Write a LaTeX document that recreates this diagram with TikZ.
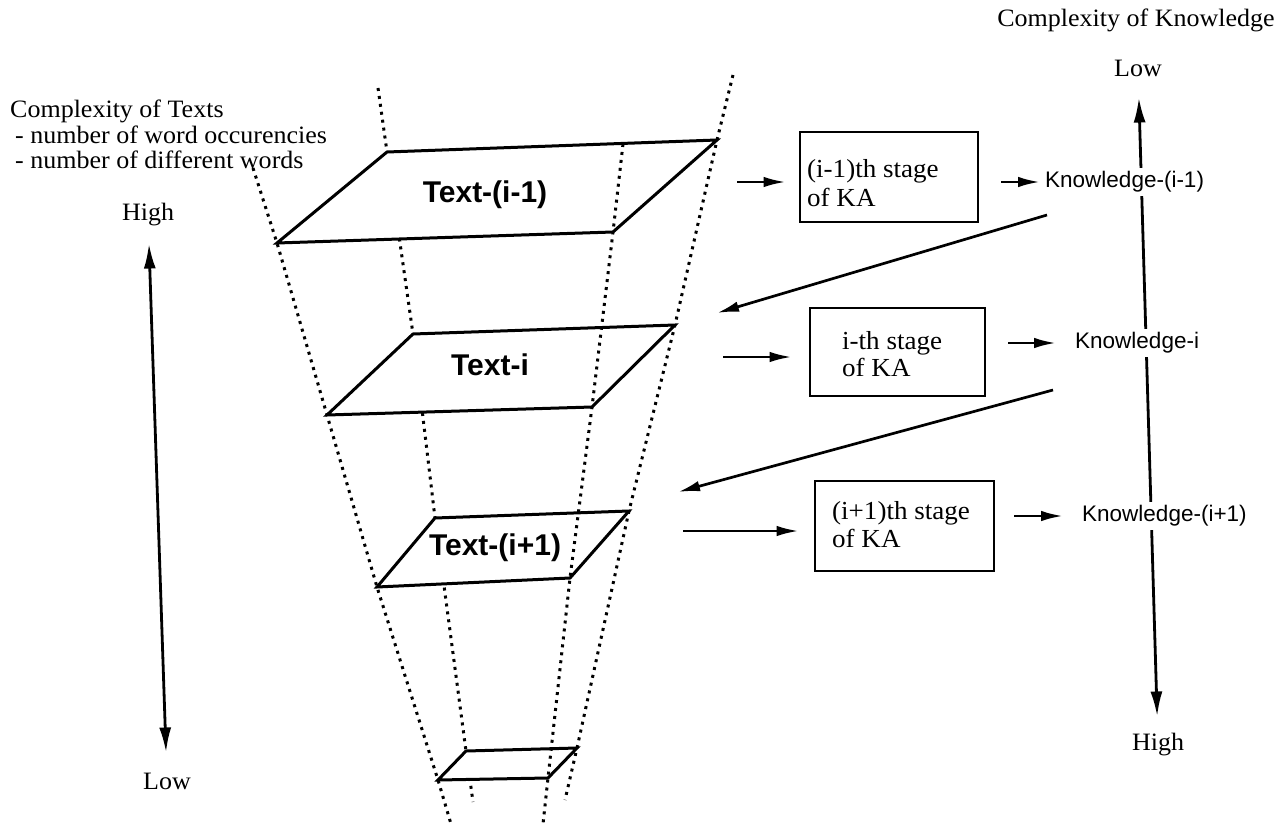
\documentclass[tikz,border=0pt]{standalone}
\usepackage{fontspec}
\setmainfont{Liberation Serif}[FakeStretch=1.04]
\newfontfamily\arialf{Liberation Sans}
\usetikzlibrary{arrows.meta}
\begin{document}
\begin{tikzpicture}[x=1pt,y=-1pt,
  serif/.style={font=\fontsize{25}{25}\selectfont, inner sep=0pt},
  know/.style={font=\arialf\fontsize{22.5}{25}\selectfont, inner xsep=1.5pt, inner ysep=4pt, fill=white, anchor=west},
  planelbl/.style={font=\arialf\bfseries\fontsize{30}{30}\selectfont, inner sep=0pt},
  stagetxt/.style={font=\fontsize{26}{26}\selectfont, inner sep=0pt, anchor=base west},
  dots/.style={line width=3pt, dash pattern=on 3pt off 5pt},
  plane/.style={line width=3pt, fill=white, line join=miter},
  stagebox/.style={draw, line width=2.7pt, inner sep=0pt},
  arr/.style={line width=2.7pt, -{Latex[length=22pt,width=10.5pt]}},
  varr/.style={line width=2.8pt, {Latex[length=25pt,width=12pt]}-{Latex[length=25pt,width=12pt]}},
]
\useasboundingbox (0,0) rectangle (1285,824);

% ---- corner points of the text planes
\coordinate (p1tl) at (387,152); \coordinate (p1tr) at (717,140);
\coordinate (p1br) at (613,232); \coordinate (p1bl) at (277,243);
\coordinate (p2tl) at (413,334); \coordinate (p2tr) at (675,325);
\coordinate (p2br) at (592,407); \coordinate (p2bl) at (327,415);
\coordinate (p3tl) at (435,518); \coordinate (p3tr) at (629,511);
\coordinate (p3br) at (570,578); \coordinate (p3bl) at (377,587);
\coordinate (p4tl) at (466,751); \coordinate (p4tr) at (577,748);
\coordinate (p4br) at (548,778); \coordinate (p4bl) at (438,780);
% free ends of the dotted edges
\coordinate (l1a) at (253,168); \coordinate (l1b) at (451,824);
\coordinate (l2a) at (378,88);  \coordinate (l2b) at (473,802);
\coordinate (l3a) at (733,75);  \coordinate (l3b) at (565,800);
\coordinate (l4a) at (623,144); \coordinate (l4b) at (543,824);

% ---- dotted edges of the funnel (behind the planes)
\draw[dots] (l1a) -- (p1bl) -- (p2bl) -- (p3bl) -- (p4bl) -- (l1b);
\draw[dots] (l2a) -- (p1tl) -- (p2tl) -- (p3tl) -- (p4tl) -- (l2b);
\draw[dots] (l3a) -- (p1tr) -- (p2tr) -- (p3tr) -- (p4tr) -- (l3b);

% ---- planes
\draw[plane] (p1tl) -- (p1tr) -- (p1br) -- (p1bl) -- cycle;
\draw[plane] (p2tl) -- (p2tr) -- (p2br) -- (p2bl) -- cycle;
\draw[plane] (p3tl) -- (p3tr) -- (p3br) -- (p3bl) -- cycle;
\draw[plane] (p4tl) -- (p4tr) -- (p4br) -- (p4bl) -- cycle;

% ---- dotted edge visible through the planes
\draw[dots] (l4a) -- (p1br) -- (p2br) -- (p3br) -- (p4br) -- (l4b);

\node[planelbl] (tx1) at (485,195) {Text-(i-1)};
\node[planelbl] (tx2) at (490,365) {Text-i};
\node[planelbl] (tx3) at (495,548) {Text-(i+1)};

% ---- left scale
\node[serif, anchor=base west] (ct1) at (10,118) {Complexity of Texts};
\node[serif, anchor=base west] (ct2) at (15,143) {- number of word occurencies};
\node[serif, anchor=base west] (ct3) at (15,168) {- number of different words};
\node[serif] (lhigh) at (148,215) {High};
\node[serif] (llow) at (167,781) {Low};
\draw[varr, shorten <=17pt, shorten >=20pt] (lhigh) -- (llow);

% ---- right scale
\node[serif] (ck) at (1136,20) {Complexity of Knowledge};
\node[serif] (klow) at (1138,68) {Low};
\node[serif] (khigh) at (1158,745) {High};
\draw[varr, shorten <=21pt, shorten >=17pt] (klow) -- (khigh);

% ---- stage boxes
\node[stagebox, minimum width=178pt, minimum height=90pt] (b1) at (889,177) {};
\node[stagebox, minimum width=175pt, minimum height=88pt] (b2) at (897.5,352) {};
\node[stagebox, minimum width=179pt, minimum height=90pt] (b3) at (904.5,526) {};
\node[stagetxt] (s1a) at (807,178) {(i-1)th stage};
\node[stagetxt] (s1b) at (807,206) {of KA};
\node[stagetxt] (s2a) at (842,349) {i-th stage};
\node[stagetxt] (s2b) at (842,376) {of KA};
\node[stagetxt] (s3a) at (832,519) {(i+1)th stage};
\node[stagetxt] (s3b) at (832,547) {of KA};

% ---- knowledge labels
\node[know] (k1) at (1043.5,182) {Knowledge-(i-1)};
\node[know] (k2) at (1073.5,343) {Knowledge-i};
\node[know] (k3) at (1080.5,516) {Knowledge-(i+1)};

% ---- arrows into the stages
\coordinate (in1) at (737,182);
\coordinate (in2) at (723,357);
\coordinate (in3) at (683,531);
\draw[arr, shorten >=13pt] (in1) -- (in1 -| b1.west);
\draw[arr, shorten >=17pt] (in2) -- (in2 -| b2.west);
\draw[arr, shorten >=15pt] (in3) -- (in3 -| b3.west);

% ---- arrows from stages to knowledge
\draw[arr, shorten <=22pt, shorten >=3.5pt] (b1.east |- k1.west) -- (k1.west);
\draw[arr, shorten <=22pt, shorten >=17.5pt] (b2.east |- k2.west) -- (k2.west);
\draw[arr, shorten <=19pt, shorten >=17.5pt] (b3.east |- k3.west) -- (k3.west);

% ---- feedback arrows
\coordinate (d1s) at (1047,215); \coordinate (d1e) at (717,313);
\coordinate (d2s) at (1053,390); \coordinate (d2e) at (678,492);
\draw[arr] (d1s) -- (d1e);
\draw[arr] (d2s) -- (d2e);
\end{tikzpicture}
\end{document}
